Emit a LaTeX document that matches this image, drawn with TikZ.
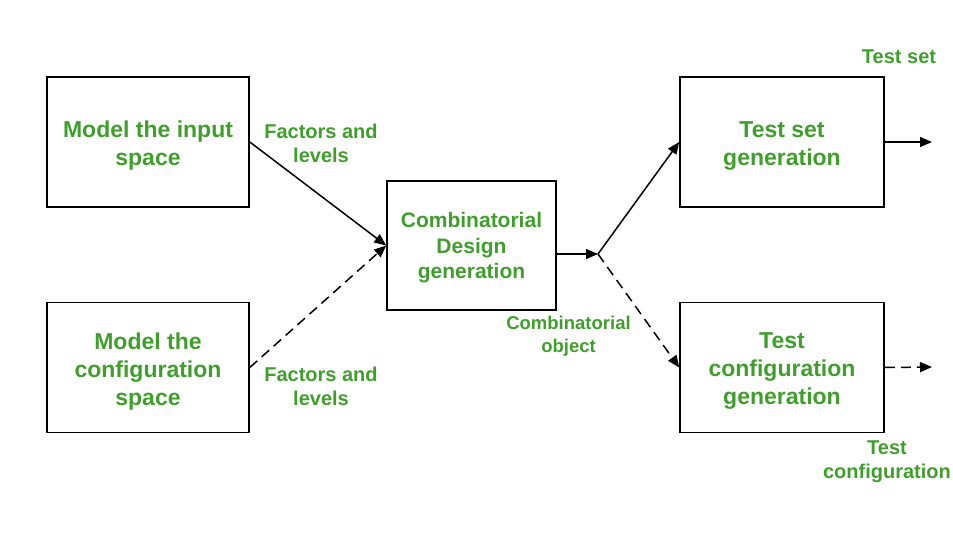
\documentclass[tikz,border=0pt]{standalone}
\usepackage{fontspec}
\setmainfont{Liberation Sans}
\usetikzlibrary{arrows.meta}
\definecolor{gg}{RGB}{64,158,44}
\tikzset{
  box/.style={draw=black, line width=1.6pt, minimum width=202pt, minimum height=130pt, inner sep=0pt},
  boxtxt/.style={align=center, text=gg, inner sep=0pt, font=\fontsize{23}{28}\selectfont\bfseries},
  lbl/.style={align=center, text=gg, inner sep=0pt, font=\fontsize{20}{24}\selectfont\bfseries},
  conn/.style={line width=1.5pt, -{Triangle[length=12pt,width=10pt]}},
  dsh/.style={dash pattern=on 10pt off 6pt}
}
\begin{document}
\begin{tikzpicture}[x=1pt,y=-1pt]
\useasboundingbox (0,0) rectangle (953,538);
\node[box] (m1) at (148,142) {};
\node[box] (m2) at (148,367.5) {};
\node[box, minimum width=169pt, minimum height=129pt] (cd) at (471.5,245.5) {};
\node[box, minimum width=204pt] (ts) at (782,142) {};
\node[box, minimum width=204pt] (tc) at (782,367.5) {};
\node[boxtxt] (t1) at (148,146) {Model the input\\space};
\node[boxtxt] (t2) at (148,371.5) {Model the\\configuration\\space};
\node[boxtxt, font=\fontsize{21}{25.5}\selectfont\bfseries] (t3) at (471.5,248) {Combinatorial\\Design\\generation};
\node[boxtxt] (t4) at (782,146) {Test set\\generation};
\node[boxtxt] (t5) at (782,371.5) {Test\\configuration\\generation};
\coordinate (j) at (598,254);
\coordinate (o1) at (932,142);
\coordinate (o2) at (932,367);
\draw[conn] (m1.east) -- (cd.west);
\draw[conn, dsh] (m2.east) -- (cd.west);
\draw[conn] (cd.east |- j) -- (j);
\draw[conn] (j) -- (ts.west);
\draw[conn, dsh] (j) -- (tc.west);
\draw[conn] (ts.east) -- (o1);
\draw[conn, dsh] (tc.east) -- (o2);
\node[lbl] (l1) at (321,143) {Factors and\\levels};
\node[lbl] (l2) at (321,386.5) {Factors and\\levels};
\node[lbl, font=\fontsize{18.5}{23}\selectfont\bfseries] (l3) at (568.5,336.5) {Combinatorial\\object};
\node[lbl] (l4) at (899,57) {Test set};
\node[lbl] (l5) at (887,461.5) {Test\\configuration};
\end{tikzpicture}
\end{document}
